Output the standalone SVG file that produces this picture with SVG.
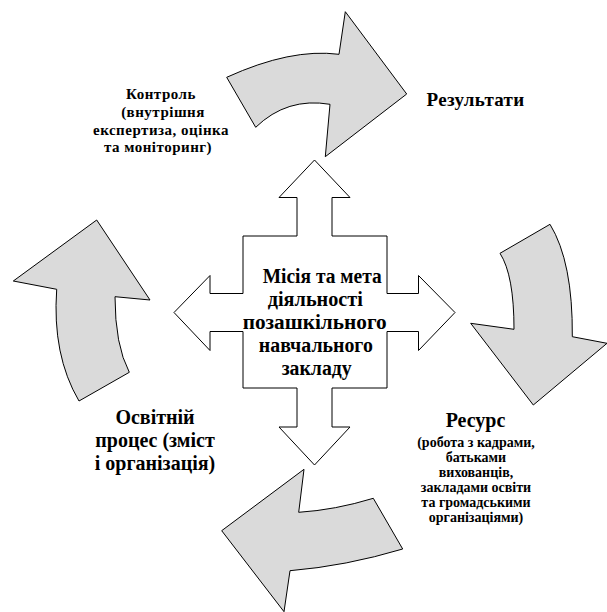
<svg xmlns="http://www.w3.org/2000/svg" width="607" height="612" viewBox="0 0 607 612">
<defs>
<style>
.cycle{fill:#dadada;stroke:#000;stroke-width:1}
.cross{fill:#fff;stroke:#000;stroke-width:1}
</style>
</defs>
<rect width="607" height="612" fill="#fff"/>
<g id="connectors">
<path id="arrow-results" class="cycle" d="M226.7,77.3 Q291,48 339,54.3 L345.3,11.7 L406.7,94 L325.3,156.7 L330,104.3 Q287,97 255.7,127.3 Z"/>
<path id="arrow-resource" class="cycle" d="M500,253.3 L550,224.3 Q573,262 572.3,336.7 L607,343.3 L533.3,405 L470.7,323.3 L514,329.3 Q514,275 500,253.3 Z"/>
<path id="arrow-process" class="cycle" d="M373.3,498.3 Q335,510 298.7,512.3 L304,469.3 L221.7,530.7 L284,611.7 L290,570.7 Q346,566 402.7,549 Z"/>
<path id="arrow-control" class="cycle" d="M79,401 L129.3,372.3 Q115,345 115,296.7 L150,300 L96.7,220 L13.3,281 L56.7,289.3 Q52,355 79,401 Z"/>
</g>
<g id="mission" font-family="Liberation Serif, Times New Roman, serif" font-weight="bold" font-size="20" text-anchor="middle">
<path class="cross" d="M314.5,160 L350,197.5 L332,197.5 L332,236 L387,236 L387,293.5 L418.5,293.5 L418.5,275.5 L455,312.5 L418.5,350.5 L418.5,331.5 L387,331.5 L387,388 L332,388 L332,427 L350,427 L314.5,465 L279,427 L297,427 L297,388 L243,388 L243,331.5 L210,331.5 L210,350.5 L174,312.5 L210,275.5 L210,293.5 L243,293.5 L243,236 L297,236 L297,197.5 L279,197.5 Z"/>
<text x="322.2" y="283" textLength="119" lengthAdjust="spacingAndGlyphs">Місія та мета</text>
<text x="315.3" y="306" textLength="95" lengthAdjust="spacingAndGlyphs">діяльності</text>
<text x="314.7" y="329" textLength="144" lengthAdjust="spacingAndGlyphs">позашкільного</text>
<text x="315.8" y="352" textLength="114" lengthAdjust="spacingAndGlyphs">навчального</text>
<text x="316.7" y="375" textLength="70" lengthAdjust="spacingAndGlyphs">закладу</text>
</g>
<g id="results" font-family="Liberation Serif, Times New Roman, serif" font-weight="bold" font-size="19" text-anchor="middle">
<text x="475.5" y="106" letter-spacing="0.3">Результати</text>
</g>
<g id="control" font-family="Liberation Serif, Times New Roman, serif" font-weight="bold" font-size="15" text-anchor="middle" letter-spacing="0.5">
<text x="161" y="99">Контроль</text>
<text x="163" y="117">(внутрішня</text>
<text x="161" y="135">експертиза, оцінка</text>
<text x="158" y="152">та моніторинг)</text>
</g>
<g id="process" font-family="Liberation Serif, Times New Roman, serif" font-weight="bold" font-size="20" text-anchor="middle">
<text x="155" y="424">Освітній</text>
<text x="155" y="447">процес (зміст</text>
<text x="155" y="470">і організація)</text>
</g>
<g id="resource" font-family="Liberation Serif, Times New Roman, serif" font-weight="bold" text-anchor="middle">
<text x="475.5" y="426.5" font-size="20">Ресурс</text>
<g font-size="14">
<text x="476" y="446.7">(робота з кадрами,</text>
<text x="476" y="461.7">батьками</text>
<text x="476" y="477">вихованців,</text>
<text x="476" y="492">закладами освіти</text>
<text x="476" y="507">та громадськими</text>
<text x="476" y="522">організаціями)</text>
</g>
</g>
</svg>
